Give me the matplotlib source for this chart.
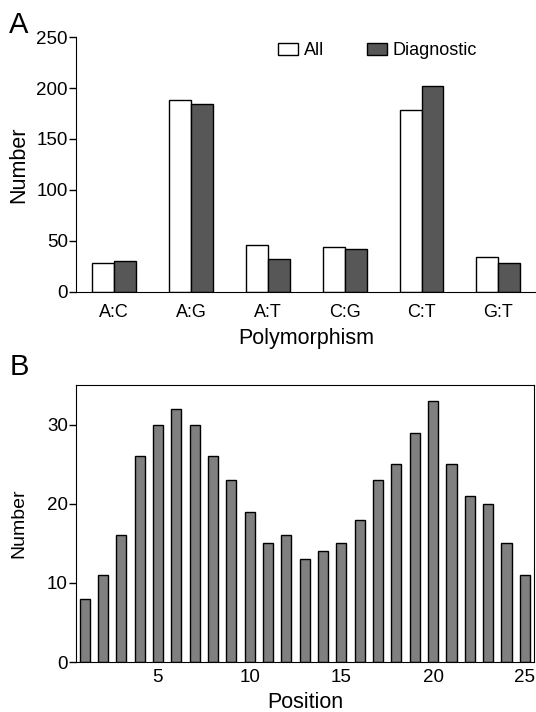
import matplotlib
matplotlib.use("Agg")
import matplotlib.pyplot as plt
import numpy as np

plt.rcParams['font.family'] = ['Liberation Sans', 'DejaVu Sans']

# panel A data
categories = ['A:C', 'A:G', 'A:T', 'C:G', 'C:T', 'G:T']
all_counts = [28, 188, 46, 44, 178, 34]
diag_counts = [30, 184, 32, 42, 202, 28]

# panel B data
positions = list(range(1, 26))
pos_counts = [8, 11, 16, 26, 30, 32, 30, 26, 23, 19, 15, 16, 13,
              14, 15, 18, 23, 25, 29, 33, 25, 21, 20, 15, 11]

fig = plt.figure(figsize=(5.36, 7.12), dpi=100)

# --- panel A ---
axA = fig.add_axes([0.142, 0.590, 0.858, 0.358])
x = np.arange(len(categories))
w = 0.286
axA.bar(x - w / 2, all_counts, w, color='white', edgecolor='black', linewidth=1.0, label='All')
axA.bar(x + w / 2, diag_counts, w, color='#575757', edgecolor='black', linewidth=1.0, label='Diagnostic')
axA.set_xlim(-0.495, 5.49)
axA.set_ylim(0, 250)
axA.set_yticks([0, 50, 100, 150, 200, 250])
axA.set_xticks(x)
axA.set_xticklabels(categories)
axA.spines['top'].set_visible(False)
axA.spines['right'].set_visible(False)
axA.tick_params(axis='x', length=0, pad=9, labelsize=13)
axA.tick_params(axis='y', length=5, width=1, labelsize=13.5, pad=1)
axA.set_ylabel('Number', fontsize=15.5, labelpad=5)
axA.set_xlabel('Polymorphism', fontsize=15.5, labelpad=5)
axA.legend(loc='upper left', bbox_to_anchor=(0.44, 0.98), ncol=2, frameon=False,
           fontsize=13, handlelength=1.1, handleheight=0.67, handletextpad=0.3,
           columnspacing=2.4, borderpad=0, borderaxespad=0)
fig.text(0.016, 0.953, 'A', fontsize=21)

# --- panel B ---
axB = fig.add_axes([0.142, 0.0702, 0.854, 0.389])
axB.bar(positions, pos_counts, 0.55, color='#808080', edgecolor='black', linewidth=1.0)
axB.set_xlim(0.54, 25.49)
axB.set_ylim(0, 35)
axB.set_yticks([0, 10, 20, 30])
axB.set_xticks([5, 10, 15, 20, 25])
axB.tick_params(axis='x', length=0, pad=5, labelsize=13.5)
axB.tick_params(axis='y', length=5, width=1, labelsize=13.5, pad=1)
axB.set_ylabel('Number', fontsize=14, labelpad=14)
axB.set_xlabel('Position', fontsize=15.5, labelpad=4)
fig.text(0.018, 0.473, 'B', fontsize=21)

fig.savefig('out.png', dpi=100)
